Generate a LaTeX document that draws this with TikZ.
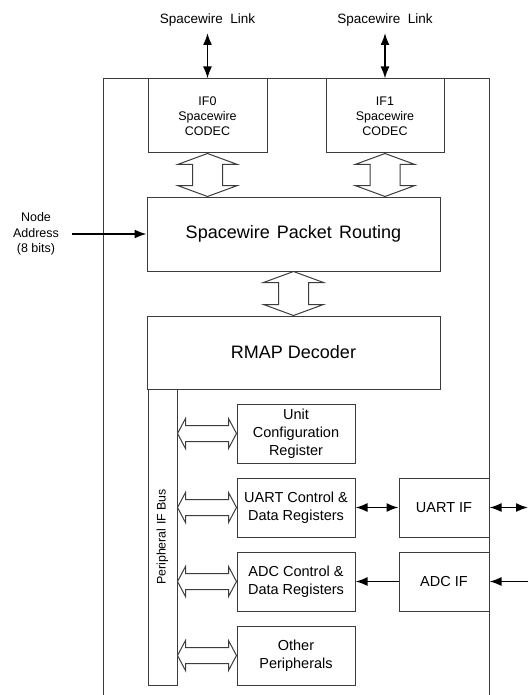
\documentclass[tikz,border=0pt]{standalone}
\usepackage{fontspec}
\setmainfont{Liberation Sans}
\usetikzlibrary{arrows.meta,calc}
\definecolor{linegray}{RGB}{60,60,60}
\tikzset{
 box/.style={draw=linegray, line width=1pt, fill=white, inner sep=0pt, align=center},
 sig/.style={line width=1.7pt, black},
 dbl/.style={sig, {Latex[length=12pt,width=9pt]}-{Latex[length=12pt,width=9pt]}},
 one/.style={sig, -{Latex[length=12pt,width=9pt]}},
 blockarrow/.style={draw=linegray, line width=1pt, fill=white, line join=miter},
 small/.style={font=\fontsize{12.5}{15}\selectfont, align=center},
 mid/.style={font=\fontsize{14.5}{18}\selectfont, align=center},
 big/.style={font=\fontsize{18}{22}\selectfont, align=center},
}
\newcommand\vbarrow[2]{%
 \draw[blockarrow] (#1) -- ++(30,11) -- ++(-15,0) -- ($(#2)+(15,-11)$) -- ++(15,0) -- (#2)
  -- ++(-30,-11) -- ++(15,0) -- ($(#1)+(-15,11)$) -- ++(-15,0) -- cycle;}
\newcommand\hbarrow[2]{%
 \draw[blockarrow] (#1) -- ++(8,-15) -- ++(0,7) -- ($(#2)+(-8,-8)$) -- ++(0,-7) -- (#2)
  -- ++(-8,15) -- ++(0,-7) -- ($(#1)+(8,8)$) -- ++(0,7) -- cycle;}
\begin{document}
\begin{tikzpicture}[x=1pt,y=-1pt]
\useasboundingbox (0,0) rectangle (528,695);
% outer frame
\draw[draw=linegray, line width=1pt] (103,700) -- (103,79) -- (489,79) -- (489,700);
% nodes
\node[box, small, minimum width=119pt, minimum height=74pt] (if0) at (207.5,116) {IF0\\Spacewire\\CODEC};
\node[box, small, minimum width=118pt, minimum height=74pt] (if1) at (385,116) {IF1\\Spacewire\\CODEC};
\node[box, big, minimum width=293pt, minimum height=74pt] (route) at (293.5,234) {Spacewire\hspace{0.4em}Packet\hspace{0.4em}Routing};
\node[box, big, minimum width=293pt, minimum height=73pt] (rmap) at (293.5,352.5) {RMAP Decoder};
\node[box, font=\fontsize{12.4}{15}\selectfont, rotate=90, minimum width=296pt, minimum height=29pt] (bus) at (162.5,537) {Peripheral IF Bus};
\node[box, mid, minimum width=118pt, minimum height=59pt] (ucr) at (296,433.5) {Unit\\Configuration\\Register};
\node[box, mid, minimum width=118pt, minimum height=59pt] (uartc) at (296,507.5) {UART Control \&\\Data Registers};
\node[box, mid, minimum width=118pt, minimum height=59pt] (adcc) at (296,581.5) {ADC Control \&\\Data Registers};
\node[box, mid, minimum width=118pt, minimum height=59pt] (other) at (296,655.5) {Other\\Peripherals};
\node[box, mid, minimum width=90pt, minimum height=59pt] (uartif) at (444,507.5) {UART IF};
\node[box, mid, minimum width=90pt, minimum height=59pt] (adcif) at (444,581.5) {ADC IF};
% labels
\node[font=\fontsize{13.5}{15}\selectfont] (link0) at (207.5,20) {Spacewire\hspace{0.55em}Link};
\node[font=\fontsize{13.5}{15}\selectfont] (link1) at (385,20) {Spacewire\hspace{0.55em}Link};
\node[small, font=\fontsize{12.5}{15.5}\selectfont] (addr) at (36,234) {Node\\Address\\(8 bits)};
% coordinates for free ends
\coordinate (l0) at (207.5,33);
\coordinate (l1) at (385,33);
\coordinate (uartext) at (528,507.5);
\coordinate (adcext) at (528,581.5);
% signal arrows
\draw[dbl] (l0) -- (if0.north);
\draw[dbl] (l1) -- (if1.north);
\draw[one] ([xshift=10pt]addr.east) -- (route.west);
\draw[dbl] (uartc.east) -- (uartif.west);
\draw[dbl] (uartif.east) -- (uartext);
\draw[one] (adcif.west) -- (adcc.east);
\draw[one] (adcext) -- (adcif.east);
% block arrows
\vbarrow{if0.south}{if0.south |- route.north}
\vbarrow{if1.south}{if1.south |- route.north}
\vbarrow{route.south}{route.south |- rmap.north}
\hbarrow{bus.south |- ucr.west}{ucr.west}
\hbarrow{bus.south |- uartc.west}{uartc.west}
\hbarrow{bus.south |- adcc.west}{adcc.west}
\hbarrow{bus.south |- other.west}{other.west}
\end{tikzpicture}
\end{document}
